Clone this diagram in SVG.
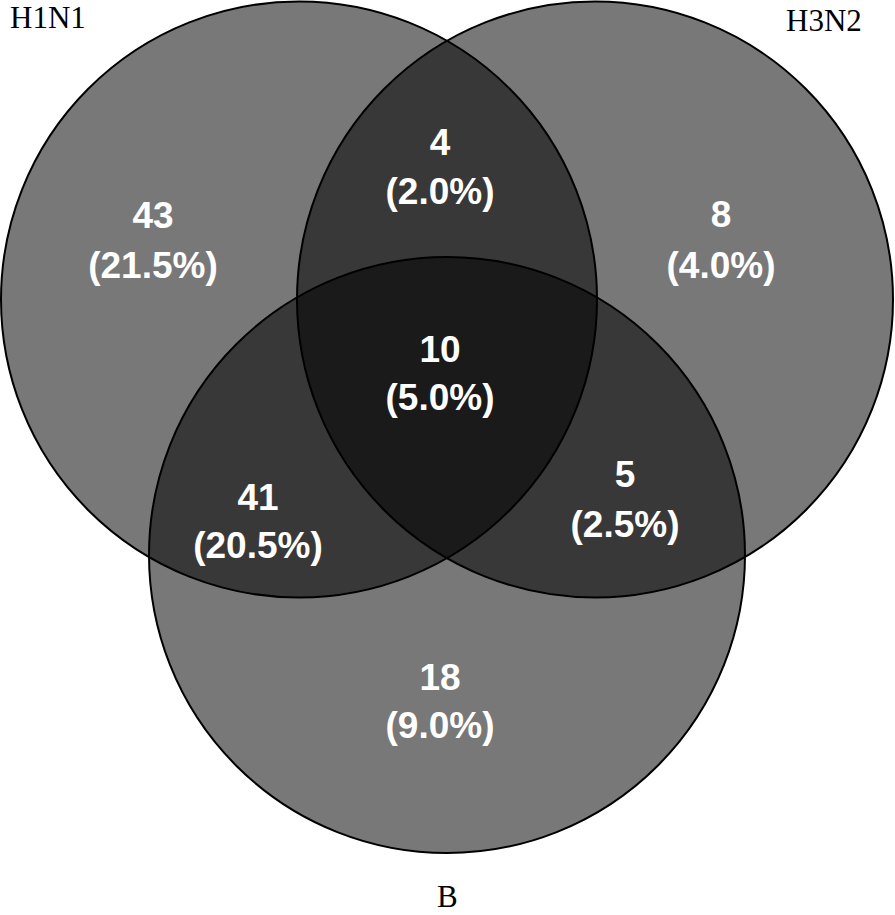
<svg xmlns="http://www.w3.org/2000/svg" width="895" height="915" viewBox="0 0 895 915">
<style>
.set{fill:#000;fill-opacity:0.53;stroke:#000;stroke-width:2}
.lbl{font-family:"Liberation Serif","Times New Roman",serif;font-size:31px;fill:#000}
.num{font-family:"Liberation Sans",Arial,sans-serif;font-size:37px;font-weight:bold;fill:#fff;text-anchor:middle}
</style>
<rect width="895" height="915" fill="#fff"/>
<g id="circles">
<g id="h1n1"><circle class="set" cx="299" cy="299.5" r="298"/></g>
<g id="h3n2"><circle class="set" cx="595" cy="299.5" r="298"/></g>
<g id="b"><circle class="set" cx="447" cy="555" r="298"/></g>
</g>
<g id="labels">
<text class="lbl" x="10" y="28">H1N1</text>
<text class="lbl" x="786" y="31">H3N2</text>
<text class="lbl" x="437" y="907">B</text>
</g>
<g id="counts">
<text class="num" x="153" y="228">43<tspan x="153" y="278">(21.5%)</tspan></text>
<text class="num" x="440" y="155">4<tspan x="440" y="204">(2.0%)</tspan></text>
<text class="num" x="721" y="227">8<tspan x="721" y="278">(4.0%)</tspan></text>
<text class="num" x="440" y="362">10<tspan x="440" y="410">(5.0%)</tspan></text>
<text class="num" x="258" y="510">41<tspan x="258" y="558">(20.5%)</tspan></text>
<text class="num" x="625" y="487">5<tspan x="625" y="537">(2.5%)</tspan></text>
<text class="num" x="440" y="690">18<tspan x="440" y="738">(9.0%)</tspan></text>
</g>
</svg>
